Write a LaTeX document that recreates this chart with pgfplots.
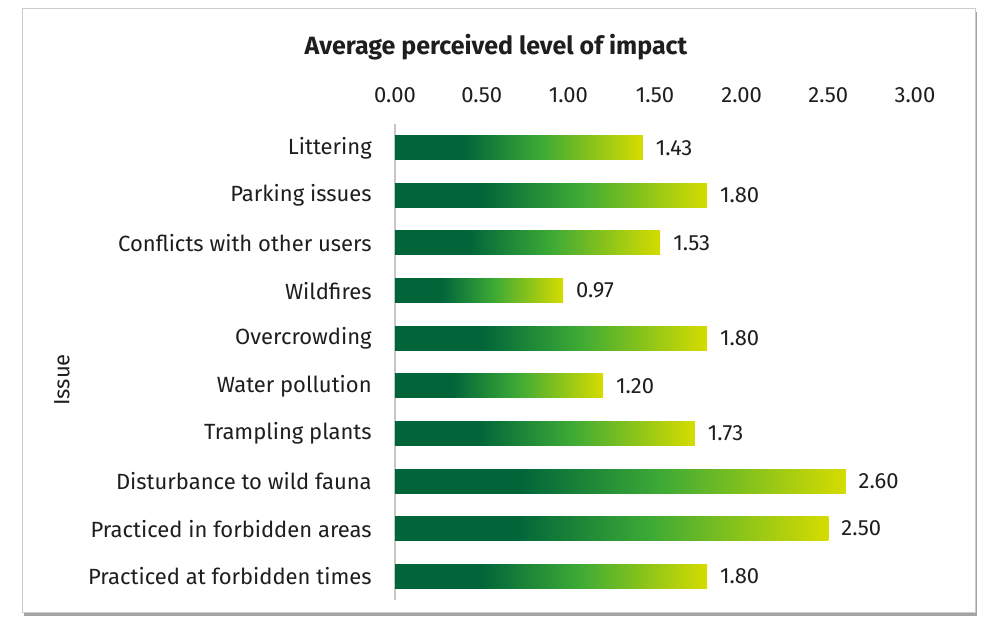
\documentclass[border=0pt]{standalone}
\usepackage{pgfplots}
\pgfplotsset{compat=1.18}
\usepackage{fontspec}
\setmainfont{Fira Sans}
\usetikzlibrary{shadows}
\definecolor{dkg}{HTML}{00663A}
\definecolor{midg}{HTML}{3DAA35}
\definecolor{yel}{HTML}{D6DC00}
\definecolor{txt}{HTML}{1E1E1E}
\pgfdeclarehorizontalshading{barshade}{100bp}{color(0bp)=(dkg); color(25bp)=(dkg); color(39bp)=(dkg); color(54.5bp)=(midg); color(75bp)=(yel); color(100bp)=(yel)}
\begin{document}
\begin{tikzpicture}[x=1pt,y=1pt]
\useasboundingbox (0,0) rectangle (495,313.5);
\fill[white, draw=gray!40, drop shadow={shadow xshift=1.2pt, shadow yshift=-2.2pt, opacity=0.6, fill=gray!80!black}] (11,7.5) rectangle (487.5,309.5);
\begin{axis}[
  at={(197.5pt,13.5pt)}, anchor=south west,
  scale only axis, width=260pt, height=238pt,
  xbar, bar width=12pt, bar shift=0pt,
  xmin=0, xmax=3,
  ymin=-0.5, ymax=9.5, y dir=reverse,
  axis x line=top, axis y line=left,
  x axis line style={draw=none},
  y axis line style={draw=gray!45, line width=0.6pt, -},
  xtick={0,0.5,...,3}, xtick style={draw=none},
  ytick={0,...,9}, ytick style={draw=none},
  yticklabels={Littering, Parking issues, Conflicts with other users, Wildfires, Overcrowding, Water pollution, Trampling plants, Disturbance to wild fauna, Practiced in forbidden areas, Practiced at forbidden times},
  xticklabel style={yshift=5pt},
  yticklabel style={xshift=-6pt},
  ticklabel style={font=\fontsize{11}{13}\selectfont, text=txt},
  /pgf/number format/assume math mode=true,
  xticklabel={\pgfmathprintnumber[fixed, fixed zerofill, precision=2]{\tick}},
  nodes near coords={\pgfmathprintnumber[fixed, fixed zerofill, precision=2]{\pgfplotspointmeta}},
  nodes near coords style={font=\fontsize{11}{13}\selectfont, text=txt, anchor=west, xshift=3pt},
  point meta=x,
  every axis plot/.append style={draw=none, shading=barshade},
  clip=false,
]
\addplot coordinates {(1.43,0)};
\addplot coordinates {(1.80,1)};
\addplot coordinates {(1.53,2)};
\addplot coordinates {(0.97,3)};
\addplot coordinates {(1.80,4)};
\addplot coordinates {(1.20,5)};
\addplot coordinates {(1.73,6)};
\addplot coordinates {(2.60,7)};
\addplot coordinates {(2.50,8)};
\addplot coordinates {(1.80,9)};
\end{axis}
\node[font=\bfseries\fontsize{12.5}{14}\selectfont, text=txt] at (248,290) {Average perceived level of impact};
\node[rotate=90, font=\fontsize{11}{13}\selectfont, text=txt] at (31,123.5) {Issue};
\end{tikzpicture}
\end{document}
